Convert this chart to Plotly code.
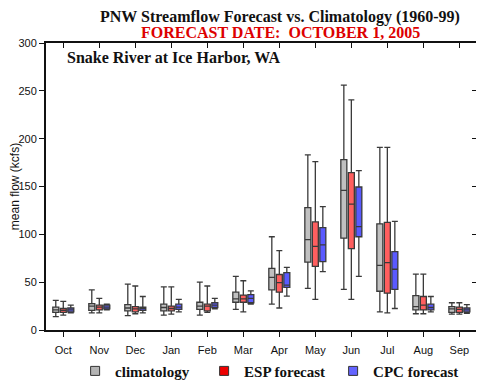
import plotly.graph_objects as go

months = ["Oct", "Nov", "Dec", "Jan", "Feb", "Mar", "Apr", "May", "Jun", "Jul", "Aug", "Sep"]

# climatology
clim_lo  = [14, 18, 15, 15.5, 15.5, 21.5, 27, 43.5, 42.5, 19, 17, 16.5]
clim_q1  = [18.5, 20.5, 20, 20, 21.5, 29, 42, 71, 96, 40.5, 21, 18.5]
clim_med = [21, 25, 23, 23.5, 25, 32.5, 55, 94.5, 146, 67.5, 24.5, 22]
clim_q3  = [24, 27.5, 26.5, 27, 29, 39.5, 64.5, 128, 178, 111, 36, 24.5]
clim_hi  = [31, 42, 48, 45, 50, 56, 97.5, 183, 256, 191, 58.5, 28.5]

# ESP forecast
esp_lo  = [15.5, 18, 17, 16.5, 18.5, 19, 23, 32, 32, 18, 17, 16.5]
esp_q1  = [18.5, 21, 19, 20, 20, 29, 39.5, 66.5, 85, 38.5, 21, 18.5]
esp_med = [20.5, 24, 22, 22.5, 25, 32.5, 49.5, 87.5, 131.5, 70.5, 26, 21.5]
esp_q3  = [22.5, 26, 24.5, 25, 27, 36.5, 58, 113, 164.5, 112.5, 35, 24]
esp_hi  = [30, 33, 46, 45, 46, 51.5, 83, 176, 240.5, 191, 58.5, 28.5]

# CPC forecast
cpc_lo  = [18, 21, 18, 19, 22, 27, 35.5, 61, 56, 22.5, 19, 17.5]
cpc_q1  = [19, 22, 20.5, 21.5, 23.5, 28.5, 44.5, 71.5, 97.5, 42.5, 21, 19]
cpc_med = [21, 24, 22.5, 24, 26, 33, 47, 89, 108, 63.5, 23.5, 21]
cpc_q3  = [23, 26, 24, 27, 28.5, 37, 60, 107, 149.5, 82, 27, 23]
cpc_hi  = [26, 27, 35, 32, 33, 41, 65.5, 129, 166.5, 113.5, 35, 26.5]

y_ticks = [0, 50, 100, 150, 200, 250, 300]

series = [
    ("climatology", clim_lo, clim_q1, clim_med, clim_q3, clim_hi, "#c0c0c0", "#b4b4b4"),
    ("ESP forecast", esp_lo, esp_q1, esp_med, esp_q3, esp_hi, "#ff5f5f", "#ee0000"),
    ("CPC forecast", cpc_lo, cpc_q1, cpc_med, cpc_q3, cpc_hi, "#5a5aff", "#6464ff"),
]

fig = go.Figure()
for name, lo, q1, med, q3, hi, fill, legcol in series:
    fig.add_trace(go.Box(
        x=months, lowerfence=lo, q1=q1, median=med, q3=q3, upperfence=hi,
        name=name, fillcolor=fill, line=dict(color="#3a3a3a", width=1.3),
        whiskerwidth=1, showlegend=False, boxpoints=False, hoverinfo="skip",
    ))
for name, lo, q1, med, q3, hi, fill, legcol in series:
    fig.add_trace(go.Scatter(
        x=[None], y=[None], mode="markers", name=name,
        marker=dict(symbol="square", size=9, color=legcol,
                    line=dict(color="#333333", width=1)),
        showlegend=True,
    ))
# invisible helper trace so that the top/right tick axes get drawn
fig.add_trace(go.Scatter(x=[0], y=[0], xaxis="x2", yaxis="y2",
                         mode="markers", marker=dict(opacity=0, size=1),
                         showlegend=False, hoverinfo="skip"))

axis_font = dict(family="Liberation Sans, Arial, sans-serif", size=11, color="#111111")
serif = "Liberation Serif, Times New Roman, serif"

# page body has an 8px margin, so the figure is 8px smaller and margins shifted
fig.update_layout(
    width=476, height=374,
    margin=dict(l=38, r=7, t=35, b=52),
    paper_bgcolor="white", plot_bgcolor="white",
    boxmode="group", boxgap=0.375, boxgroupgap=0.2,
    xaxis=dict(
        type="category", categoryorder="array", categoryarray=months,
        range=[-0.48, 11.49], showgrid=False, zeroline=False, automargin=False,
        showline=True, linecolor="#111111", linewidth=2, mirror=True,
        ticks="outside", ticklen=5, tickwidth=1, tickcolor="#111111",
        tickfont=axis_font, ticklabelstandoff=4,
    ),
    xaxis2=dict(
        overlaying="x", side="top", range=[-0.48, 11.49], automargin=False,
        tickvals=list(range(12)), showticklabels=False,
        showgrid=False, zeroline=False, showline=False,
        ticks="inside", ticklen=5, tickcolor="#111111",
    ),
    yaxis=dict(
        range=[0, 300], tickvals=y_ticks,
        showgrid=False, zeroline=False, automargin=False,
        showline=True, linecolor="#111111", linewidth=2, mirror=True,
        ticks="outside", ticklen=5, tickwidth=1, tickcolor="#111111",
        tickfont=axis_font,
        title=dict(text="mean flow (kcfs)", font=dict(family="Liberation Sans, Arial, sans-serif", size=12, color="#111111"), standoff=2),
    ),
    yaxis2=dict(
        overlaying="y", side="right", range=[0, 300], automargin=False,
        tickvals=y_ticks, showticklabels=False,
        showgrid=False, zeroline=False, showline=False,
        ticks="inside", ticklen=5, tickcolor="#111111",
    ),
    legend=dict(
        orientation="h", xref="container", x=0.141, xanchor="left",
        yref="container", y=0.029, yanchor="middle",
        font=dict(family=serif, size=15, color="#111111", weight="bold"),
        entrywidth=84, entrywidthmode="pixels", bgcolor="rgba(0,0,0,0)",
    ),
    annotations=[
        dict(text="<b>PNW Streamflow Forecast vs. Climatology (1960-99)</b>",
             xref="paper", yref="paper", x=0.543, y=1.0906, xanchor="center", yanchor="middle",
             showarrow=False, font=dict(family=serif, size=16, color="#111111")),
        dict(text="<b>FORECAST DATE:  OCTOBER 1, 2005</b>",
             xref="paper", yref="paper", x=0.543, y=1.035, xanchor="center", yanchor="middle",
             showarrow=False, font=dict(family=serif, size=16, color="#dd0000")),
        dict(text="<b>Snake River at Ice Harbor, WA</b>",
             xref="paper", yref="paper", x=0.044, y=0.948, xanchor="left", yanchor="middle",
             showarrow=False, font=dict(family=serif, size=16, color="#111111")),
    ],
)

fig.write_html("out.html")
